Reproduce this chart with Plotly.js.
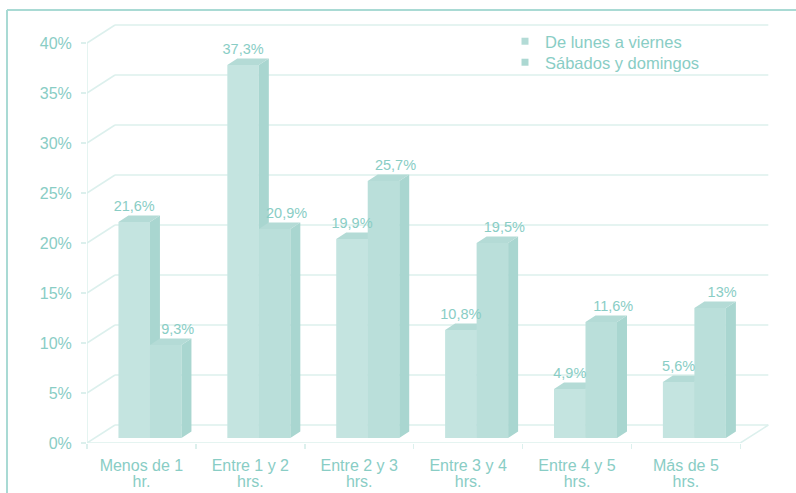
<!DOCTYPE html>
<html>
<head>
<meta charset="utf-8">
<script src="https://cdn.plot.ly/plotly-3.0.1.min.js"></script>
<style>html,body{margin:0;padding:0;background:#fff}</style>
</head>
<body>
<div id="chart" style="width:796px;height:493px"></div>
<script>
// Horas diarias: porcentaje por tramo, entre semana y fin de semana
const categories = ['Menos de 1<br>hr.', 'Entre 1 y 2<br>hrs.', 'Entre 2 y 3<br>hrs.',
                    'Entre 3 y 4<br>hrs.', 'Entre 4 y 5<br>hrs.', 'Más de 5<br>hrs.'];
const seriesNames = ['De lunes a viernes', 'Sábados y domingos'];
const weekdays = [21.6, 37.3, 19.9, 10.8, 4.9, 5.6];
const weekends = [9.3, 20.9, 25.7, 19.5, 11.6, 13];
const yTicks = [0, 5, 10, 15, 20, 25, 30, 35, 40];

const W = 796, H = 493;
const M = {l: 87, r: 23, t: 23, b: 50};
const pw = W - M.l - M.r, ph = H - M.t - M.b;
const xMax = 6.3, yMax = 42;
const pxX = pw / xMax, pxY = ph / yMax;

// pseudo-3D depth vectors, given in pixels and converted to axis units
const back  = {dx: 28 / pxX, dy: 18 / pxY};   // back wall of the box
const lift  = {dx: 8.5 / pxX, dy: 5 / pxY};   // front plane of the bars
const depth = {dx: 10 / pxX, dy: 6.5 / pxY};  // thickness of each bar
const barW = 31.5 / pxX;

const font = 'Liberation Sans, Arial, sans-serif';
const textColor = '#89cdc5';
const gridColor = '#dcf0ed';
const frameColor = '#a9dad4';
const frontColors = ['#c4e4e0', '#badfda'];
const sideColor = '#a9d6d0';
const topColor = '#b4dbd6';
const legendColors = ['#b3dbd6', '#acd8d2'];

const fmt = v => String(v).replace('.', ',') + '%';
const catLine = n => categories.map(c => c.split('<br>')[n]);
const catPos = categories.map((_, i) => i + 0.5);

function seriesTraces(values, s, xa, ya) {
  const centers = values.map((_, i) => i + 0.5 + lift.dx);
  const left = centers.map(c => s === 0 ? c - barW : c);
  const right = left.map(x => x + barW);
  const y0 = lift.dy;

  const sideX = [], sideY = [], topX = [], topY = [];
  values.forEach((v, i) => {
    const y1 = y0 + v, xl = left[i], xr = right[i];
    sideX.push(xr, xr + depth.dx, xr + depth.dx, xr, xr, null);
    sideY.push(y0, y0 + depth.dy, y1 + depth.dy, y1, y0, null);
    topX.push(xl, xr, xr + depth.dx, xl + depth.dx, xl, null);
    topY.push(y1, y1, y1 + depth.dy, y1 + depth.dy, y1, null);
  });

  return [
    {type: 'bar', x: centers, y: values, base: y0, offset: s === 0 ? -barW : 0, width: barW,
     marker: {color: frontColors[s], line: {width: 0}}, name: seriesNames[s],
     showlegend: false, hoverinfo: 'skip', xaxis: xa, yaxis: ya},
    {type: 'scatter', mode: 'lines', x: sideX, y: sideY, fill: 'toself', fillcolor: sideColor,
     line: {width: 0, color: sideColor}, showlegend: false, hoverinfo: 'skip', xaxis: xa, yaxis: ya},
    {type: 'scatter', mode: 'lines', x: topX, y: topY, fill: 'toself', fillcolor: topColor,
     line: {width: 0, color: topColor}, showlegend: false, hoverinfo: 'skip', xaxis: xa, yaxis: ya}
  ];
}

function labelTrace(values, s) {
  const shift = s === 0 ? 0 : 12 / pxX;
  return {
    type: 'scatter', mode: 'text',
    x: values.map((_, i) => i + 0.5 + lift.dx + (s === 0 ? -barW / 2 : barW / 2) + shift),
    y: values.map(v => v + lift.dy + 1.5),
    text: values.map(fmt), textposition: 'middle center',
    textfont: {family: font, size: 14.5, color: textColor},
    cliponaxis: false, showlegend: false, hoverinfo: 'skip', xaxis: 'x2', yaxis: 'y2'
  };
}

function legendTrace(s) {
  return {type: 'scatter', mode: 'markers', x: [null], y: [null], name: seriesNames[s],
          legend: s === 0 ? 'legend' : 'legend2',
          marker: {symbol: 'square', size: 7, color: legendColors[s]}, hoverinfo: 'skip'};
}

const data = [
  ...seriesTraces(weekdays, 0, 'x', 'y'),
  legendTrace(0), legendTrace(1),
  // carries the second line of the category labels
  {type: 'scatter', mode: 'markers', x: [null], y: [null], xaxis: 'x3', yaxis: 'y',
   showlegend: false, hoverinfo: 'skip'},
  ...seriesTraces(weekends, 1, 'x2', 'y2'),
  labelTrace(weekdays, 0), labelTrace(weekends, 1)
];

// box outline: back wall grid, left wall diagonals, floor edges
const shapes = [];
const line = (x0, y0, x1, y1) => ({type: 'line', layer: 'below', xref: 'x', yref: 'y',
  x0, y0, x1, y1, line: {color: gridColor, width: 1.5}});
yTicks.forEach(v => {
  shapes.push(line(back.dx, v + back.dy, categories.length + back.dx, v + back.dy));
  shapes.push(line(0, v, back.dx, v + back.dy));
});
shapes.push(line(0, 0, categories.length, 0));
shapes.push(line(categories.length, 0, categories.length + back.dx, back.dy));
shapes.push(line(0, 0, 0, yTicks[yTicks.length - 1]));

// outer frame (top and left edges)
const px2x = p => (p - M.l) / pw;
const px2y = p => (H - M.b - p) / ph;
shapes.push({type: 'line', xref: 'paper', yref: 'paper', x0: px2x(7), y0: px2y(10), x1: px2x(W + 2), y1: px2y(10),
             line: {color: frameColor, width: 2}});
shapes.push({type: 'line', xref: 'paper', yref: 'paper', x0: px2x(7), y0: px2y(10), x1: px2x(7), y1: px2y(H + 2),
             line: {color: frameColor, width: 2}});

const legendBox = top => ({x: px2x(505), xanchor: 'left', y: px2y(top), yanchor: 'top',
  bgcolor: 'rgba(0,0,0,0)', font: {family: font, size: 16.5, color: textColor}, itemwidth: 30});

const catFont = {family: font, size: 16, color: textColor};

const layout = {
  width: W, height: H,
  margin: M,
  paper_bgcolor: '#ffffff', plot_bgcolor: 'rgba(0,0,0,0)',
  barmode: 'overlay',
  showlegend: true,
  legend: legendBox(24),
  legend2: legendBox(45),
  xaxis: {range: [0, xMax], fixedrange: true,
          tickmode: 'array', tickvals: catPos, ticktext: catLine(0),
          ticks: '', showgrid: false, zeroline: false, showline: false,
          tickfont: catFont, ticklabelstandoff: 11,
          minor: {tickmode: 'array', tickvals: categories.map((_, i) => i).concat([categories.length]),
                  ticks: 'outside', ticklen: 5, tickwidth: 1.5, tickcolor: gridColor, showgrid: false}},
  xaxis3: {overlaying: 'x', anchor: 'y', side: 'bottom', range: [0, xMax], fixedrange: true,
           tickmode: 'array', tickvals: catPos, ticktext: catLine(1),
           ticks: '', showgrid: false, zeroline: false, showline: false,
           tickfont: catFont, ticklabelstandoff: 27},
  yaxis: {range: [0, yMax], fixedrange: true,
          tickmode: 'array', tickvals: yTicks, ticktext: yTicks.map(v => v + '%'),
          ticks: 'outside', ticklen: 5, tickwidth: 1.5, tickcolor: gridColor,
          showgrid: false, zeroline: false, showline: false,
          tickfont: {family: font, size: 16, color: textColor}, ticklabelstandoff: 6},
  xaxis2: {overlaying: 'x', range: [0, xMax], visible: false, fixedrange: true},
  yaxis2: {overlaying: 'y', range: [0, yMax], visible: false, fixedrange: true},
  shapes
};

Plotly.newPlot('chart', data, layout, {displayModeBar: false, staticPlot: true});
</script>
</body>
</html>
